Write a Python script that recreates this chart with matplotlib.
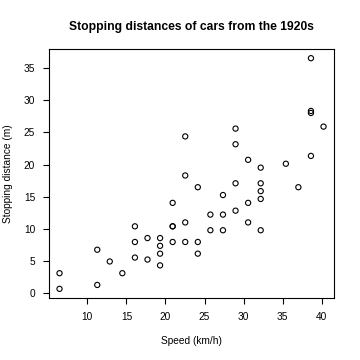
import matplotlib
matplotlib.use("Agg")
import matplotlib.pyplot as plt

# cars data, converted: speed in km/h, stopping distance in m
speed_kmh = [6.44, 6.44, 11.27, 11.27, 12.87, 14.48, 16.09, 16.09, 16.09, 17.70,
             17.70, 19.31, 19.31, 19.31, 19.31, 20.92, 20.92, 20.92, 20.92, 22.53,
             22.53, 22.53, 22.53, 24.14, 24.14, 24.14, 25.75, 25.75, 27.36, 27.36,
             27.36, 28.97, 28.97, 28.97, 28.97, 30.58, 30.58, 30.58, 32.19, 32.19,
             32.19, 32.19, 32.19, 35.41, 37.01, 38.62, 38.62, 38.62, 38.62, 40.23]
dist_m = [0.61, 3.05, 1.22, 6.71, 4.88, 3.05, 5.49, 7.92, 10.36, 5.18,
          8.53, 4.27, 6.10, 7.32, 8.53, 7.92, 10.36, 10.36, 14.02, 7.92,
          10.97, 18.29, 24.38, 6.10, 7.92, 16.46, 9.75, 12.19, 9.75, 12.19,
          15.24, 12.80, 17.07, 23.16, 25.60, 10.97, 14.02, 20.73, 9.75, 14.63,
          15.85, 17.07, 19.51, 20.12, 16.46, 21.34, 28.04, 28.35, 36.58, 25.91]

x_ticks = [10, 15, 20, 25, 30, 35, 40]
y_ticks = [0, 5, 10, 15, 20, 25, 30, 35]

plt.rcParams["font.family"] = ["Liberation Sans", "DejaVu Sans"]

fig = plt.figure(figsize=(3.6, 3.6), dpi=100)
ax = fig.add_axes([0.136, 0.172, 0.792, 0.692])

ax.scatter(speed_kmh, dist_m, s=14, facecolors="none", edgecolors="black", linewidths=0.8)

# R-style 4% padding
xr = max(speed_kmh) - min(speed_kmh)
yr = max(dist_m) - min(dist_m)
ax.set_xlim(min(speed_kmh) - 0.04 * xr, max(speed_kmh) + 0.04 * xr)
ax.set_ylim(min(dist_m) - 0.04 * yr, max(dist_m) + 0.04 * yr)

ax.set_xticks(x_ticks)
ax.set_yticks(y_ticks)
ax.tick_params(labelsize=7.3, length=4, width=0.8, pad=6)
for s in ax.spines.values():
    s.set_linewidth(0.8)

ax.set_xlabel("Speed (km/h)", fontsize=7.3, labelpad=10)
ax.set_ylabel("Stopping distance (m)", fontsize=7.3, labelpad=8)
ax.set_title("Stopping distances of cars from the 1920s", fontsize=8.7,
             fontweight="bold", pad=14)

fig.savefig("out.png", dpi=100)
